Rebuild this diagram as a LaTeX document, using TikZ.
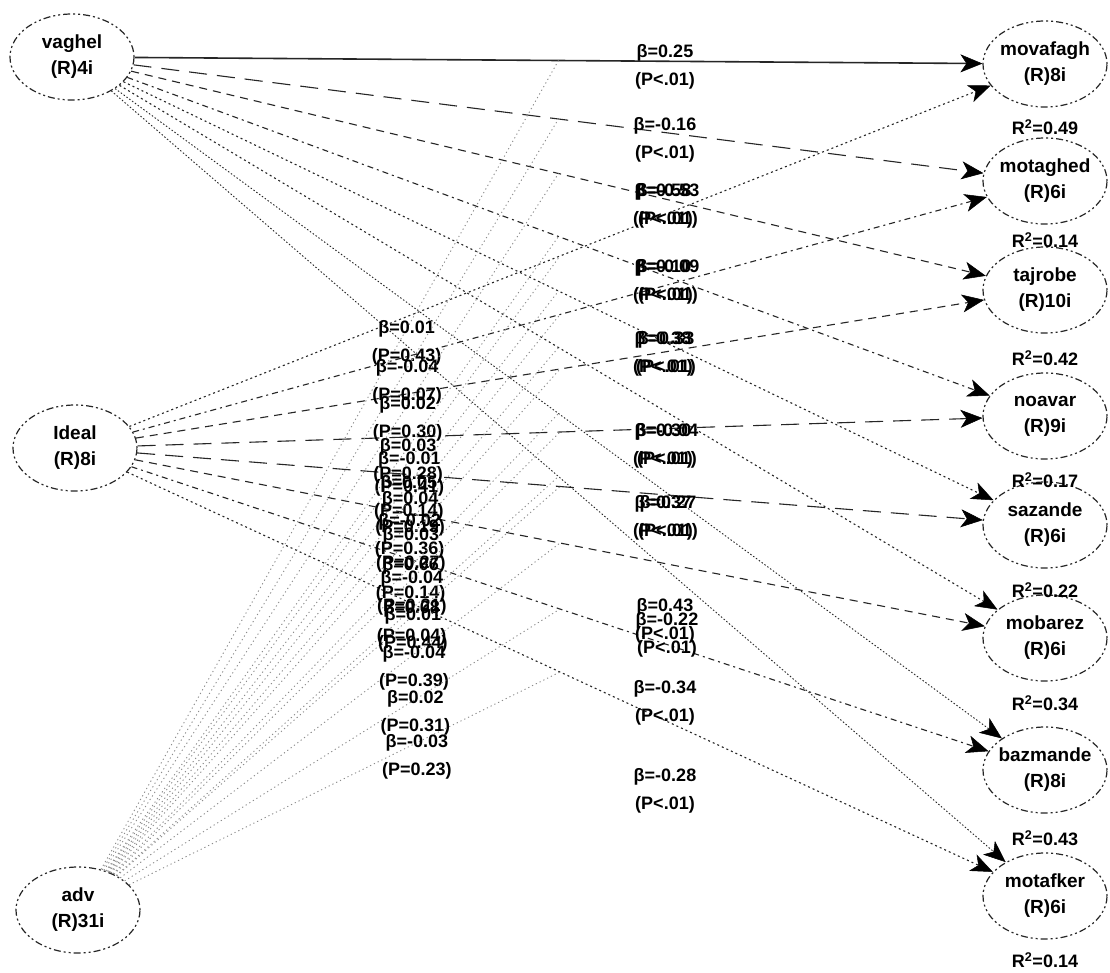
\documentclass[tikz,border=0pt]{standalone}
\usepackage{fontspec}
\setmainfont{Liberation Sans}
\usetikzlibrary{arrows.meta,shapes.geometric}
\begin{document}
\begin{tikzpicture}[x=1pt,y=-1pt,
  lv/.style={ellipse,draw=black!85,line width=1.2pt,dash pattern=on 2pt off 3pt on 7pt off 3pt on 2pt off 3pt,
    minimum width=124pt,minimum height=86pt,inner sep=0pt},
  lvt/.style={align=center,font=\fontsize{19}{26}\selectfont\bfseries,inner sep=0pt},
  rsq/.style={font=\fontsize{18}{20}\selectfont\bfseries,inner sep=0pt},
  lab/.style={align=center,font=\fontsize{18}{28}\selectfont\bfseries,inner sep=0pt},
  arr/.style={-{Stealth[length=22pt,width=18pt,inset=6pt,black,line width=0.5pt]},line width=1.1pt,draw=black!85},
  sol/.style={arr,line width=1.6pt},
  longd/.style={arr,dash pattern=on 18pt off 10pt},
  dashd/.style={arr,dash pattern=on 8pt off 6pt},
  dashdot/.style={arr,dash pattern=on 6pt off 4pt on 2pt off 4pt},
  dotd/.style={arr,dash pattern=on 2pt off 3pt},
  fined/.style={arr,line width=0.9pt,dash pattern=on 1.5pt off 2pt},
  modl/.style={draw=black!45,line width=0.9pt,dash pattern=on 1.2pt off 3pt},
]
\useasboundingbox[fill=white] (0,0) rectangle (1110,972);

% latent variables, left
\node[lv,label={[lvt]center:vaghel\\(R)4i}] (vaghel) at (72,57) {};
\node[lv,label={[lvt]center:Ideal\\(R)8i}] (ideal) at (75,448) {};
\node[lv,label={[lvt]center:adv\\(R)31i}] (adv) at (78,910) {};

% latent variables, right
\node[lv,label={[lvt]center:movafagh\\(R)8i}] (movafagh) at (1045,64) {};
\node[lv,label={[lvt]center:motaghed\\(R)6i}] (motaghed) at (1045,181) {};
\node[lv,label={[lvt]center:tajrobe\\(R)10i}] (tajrobe) at (1045,290) {};
\node[lv,label={[lvt]center:noavar\\(R)9i}] (noavar) at (1045,416) {};
\node[lv,label={[lvt]center:sazande\\(R)6i}] (sazande) at (1045,525) {};
\node[lv,label={[lvt]center:mobarez\\(R)6i}] (mobarez) at (1045,638) {};
\node[lv,label={[lvt]center:bazmande\\(R)8i}] (bazmande) at (1045,770) {};
\node[lv,label={[lvt]center:motafker\\(R)6i}] (motafker) at (1045,896) {};

% R squared
\node[rsq] (r1) at (1045,127) {R\textsuperscript{2}=0.49};
\node[rsq] (r2) at (1045,240) {R\textsuperscript{2}=0.14};
\node[rsq] (r3) at (1045,358) {R\textsuperscript{2}=0.42};
\node[rsq] (r4) at (1045,480) {R\textsuperscript{2}=0.17};
\node[rsq] (r5) at (1045,590) {R\textsuperscript{2}=0.22};
\node[rsq] (r6) at (1045,703) {R\textsuperscript{2}=0.34};
\node[rsq] (r7) at (1045,838) {R\textsuperscript{2}=0.43};
\node[rsq] (r8) at (1045,960) {R\textsuperscript{2}=0.14};

% direct paths from vaghel
\draw[sol] (vaghel) -- (movafagh) coordinate[pos=0.5] (m1);
\draw[longd] (vaghel) -- (motaghed) coordinate[pos=0.5] (m2);
\draw[dashd] (vaghel) -- (tajrobe) coordinate[pos=0.5] (m3);
\draw[dashdot] (vaghel) -- (noavar) coordinate[pos=0.5] (m4);
\draw[dotd] (vaghel) -- (sazande) coordinate[pos=0.5] (m5);
\draw[dotd] (vaghel) -- (mobarez) coordinate[pos=0.5] (m6);
\draw[fined] (vaghel) -- (bazmande) coordinate[pos=0.5] (m7);
\draw[fined] (vaghel) -- (motafker) coordinate[pos=0.5] (m8);

% direct paths from Ideal
\draw[dotd] (ideal) -- (movafagh) coordinate[pos=0.5] (n1);
\draw[dashdot] (ideal) -- (motaghed) coordinate[pos=0.5] (n2);
\draw[dashd] (ideal) -- (tajrobe) coordinate[pos=0.5] (n3);
\draw[longd] (ideal) -- (noavar) coordinate[pos=0.5] (n4);
\draw[longd] (ideal) -- (sazande) coordinate[pos=0.5] (n5);
\draw[dashd] (ideal) -- (mobarez) coordinate[pos=0.5] (n6);
\draw[dashdot] (ideal) -- (bazmande) coordinate[pos=0.5] (n7);
\draw[dotd] (ideal) -- (motafker) coordinate[pos=0.5] (n8);

% direct path labels
\node[lab] (d1) at (665,67) {β=0.25\\(P<.01)};
\node[lab] (d2) at (665,140) {β=-0.16\\(P<.01)};
\node[lab] (d3) at (663,206) {β=0.58\\(P<.01)};
\node[lab] (d4) at (668,206) {β=-0.53\\(P<.01)};
\node[lab] (d5) at (663,282) {β=0.10\\(P<.01)};
\node[lab] (d6) at (668,282) {β=-0.09\\(P<.01)};
\node[lab] (d7) at (663,354) {β=0.38\\(P<.01)};
\node[lab] (d8) at (666,354) {β=0.33\\(P<.01)};
\node[lab] (d9) at (663,446) {β=0.30\\(P<.01)};
\node[lab] (d10) at (667,446) {β=-0.04\\(P<.01)};
\node[lab] (d11) at (663,518) {β=0.37\\(P<.01)};
\node[lab] (d12) at (668,518) {β=0.27\\(P<.01)};
\node[lab] (d13) at (665,621) {β=0.43\\(P<.01)};
\node[lab] (d14) at (667,635) {β=-0.22\\(P<.01)};
\node[lab] (d15) at (665,703) {β=-0.34\\(P<.01)};
\node[lab] (d16) at (665,791) {β=-0.28\\(P<.01)};

% moderating paths from adv
\draw[modl] (adv) -- (m1) node[lab,pos=0.668,yshift=-14pt] {β=0.01\\(P=0.43)};
\draw[modl] (adv) -- (m2) node[lab,pos=0.668,yshift=-14pt] {β=-0.04\\(P=0.07)};
\draw[modl] (adv) -- (m3) node[lab,pos=0.668,yshift=-14pt] {β=0.02\\(P=0.30)};
\draw[modl] (adv) -- (n1) node[lab,pos=0.668,yshift=-14pt] {β=-0.01\\(P=0.41)};
\draw[modl] (adv) -- (m4) node[lab,pos=0.668,yshift=-14pt] {β=0.03\\(P=0.28)};
\draw[modl] (adv) -- (m5) node[lab,pos=0.668,yshift=-14pt] {β=0.05\\(P=0.14)};
\draw[modl] (adv) -- (n2) node[lab,pos=0.668,yshift=-14pt] {β=0.04\\(P=0.19)};
\draw[modl] (adv) -- (m6) node[lab,pos=0.668,yshift=-14pt] {β=-0.02\\(P=0.36)};
\draw[modl] (adv) -- (n3) node[lab,pos=0.668,yshift=-14pt] {β=0.03\\(P=0.27)};
\draw[modl] (adv) -- (m7) node[lab,pos=0.668,yshift=-14pt] {β=0.06\\(P=0.14)};
\draw[modl] (adv) -- (n4) node[lab,pos=0.668,yshift=-14pt] {β=-0.04\\(P=0.21)};
\draw[modl] (adv) -- (m8) node[lab,pos=0.668,yshift=-14pt] {β=0.08\\(P=0.04)};
\draw[modl] (adv) -- (n5) node[lab,pos=0.668,yshift=-14pt] {β=0.01\\(P=0.44)};
\draw[modl] (adv) -- (n6) node[lab,pos=0.668,yshift=-14pt] {β=-0.04\\(P=0.39)};
\draw[modl] (adv) -- (n7) node[lab,pos=0.668,yshift=-14pt] {β=0.02\\(P=0.31)};
\draw[modl] (adv) -- (n8) node[lab,pos=0.668,yshift=-14pt] {β=-0.03\\(P=0.23)};
\end{tikzpicture}
\end{document}
